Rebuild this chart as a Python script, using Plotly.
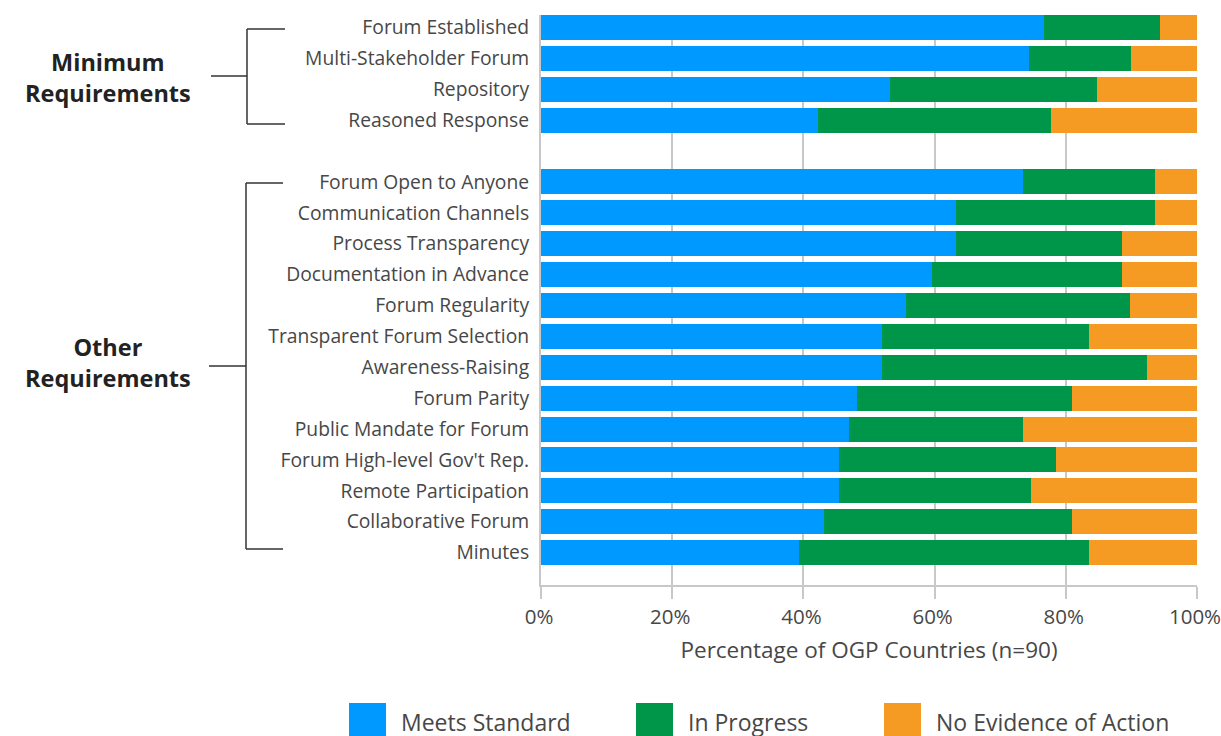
import plotly.graph_objects as go

# ---- data ----
categories = [
    "Forum Established", "Multi-Stakeholder Forum", "Repository", "Reasoned Response",
    "Forum Open to Anyone", "Communication Channels", "Process Transparency",
    "Documentation in Advance", "Forum Regularity", "Transparent Forum Selection",
    "Awareness-Raising", "Forum Parity", "Public Mandate for Forum",
    "Forum High-level Gov't Rep.", "Remote Participation", "Collaborative Forum", "Minutes",
]
meets_standard = [76.7, 74.4, 53.2, 42.2, 73.5, 63.2, 63.2, 59.6, 55.7, 52.0, 52.0,
                  48.1, 46.9, 45.5, 45.5, 43.1, 39.3]
in_progress = [17.7, 15.5, 31.5, 35.5, 20.1, 30.4, 25.4, 29.0, 34.1, 31.5, 40.4,
               32.8, 26.6, 33.0, 29.2, 37.8, 44.2]
no_evidence = [5.6, 10.1, 15.3, 22.3, 6.4, 6.4, 11.4, 11.4, 10.2, 16.5, 7.6,
               19.1, 26.5, 21.5, 25.3, 19.1, 16.5]
# row positions: one blank row between the two requirement groups
row_pos = [0, 1, 2, 3, 5, 6, 7, 8, 9, 10, 11, 12, 13, 14, 15, 16, 17]
series_names = ["Meets Standard", "In Progress", "No Evidence of Action"]
series_colors = ["#0099FF", "#00964A", "#F59A23"]
x_ticks = [0, 20, 40, 60, 80, 100]
x_tick_labels = ["0%", "20%", "40%", "60%", "80%", "100%"]
group_labels = ["Minimum<br>Requirements", "Other<br>Requirements"]

# page offset: body margin is removed by the post script below
OFF = 0
SW, SH = 1221, 736          # screen size
W, H = SW - OFF, SH - OFF   # figure size
# plot area in screen pixels
PL, PR, PT, PB = 541, 1197, 15, 585
L, T = PL - OFF, PT - OFF
R, B = SW - PR, SH - PB
FONT = "Open Sans"
TXT = "#474747"
GRID = "#c8c8c8"


def px(x):
    return (x - PL) / (PR - PL)


def py(y):
    return (PB - y) / (PB - PT)


fig = go.Figure()
for name, vals, col in zip(series_names, [meets_standard, in_progress, no_evidence], series_colors):
    fig.add_trace(go.Bar(
        y=row_pos, x=vals, name=name, orientation="h",
        marker=dict(color=col, line=dict(width=0)), width=0.81, showlegend=False,
    ))

shapes = []
line = dict(color="#333333", width=1.5)


def seg(x0, y0, x1, y1):
    shapes.append(dict(type="line", xref="paper", yref="paper",
                       x0=px(x0), y0=py(y0), x1=px(x1), y1=py(y1), line=line))


# Minimum requirements bracket
seg(247, 29, 247, 124)
seg(247, 29, 285, 29)
seg(247, 124, 285, 124)
seg(211, 76, 247, 76)
# Other requirements bracket
seg(246, 183, 246, 549)
seg(246, 183, 283, 183)
seg(246, 549, 283, 549)
seg(209, 366, 246, 366)

annotations = [
    dict(text=group_labels[0], x=px(108), y=py(77), xref="paper", yref="paper",
         showarrow=False, xanchor="center", yanchor="middle",
         font=dict(family=FONT, size=23.5, color="#222222", weight="bold")),
    dict(text=group_labels[1], x=px(108), y=py(362), xref="paper", yref="paper",
         showarrow=False, xanchor="center", yanchor="middle",
         font=dict(family=FONT, size=23.5, color="#222222", weight="bold")),
]

# custom legend at bottom
leg_sq_x = [349, 636, 884]
for name, col, sx in zip(series_names, series_colors, leg_sq_x):
    shapes.append(dict(type="rect", xref="paper", yref="paper",
                       x0=px(sx), x1=px(sx + 37), y0=py(703), y1=py(736),
                       fillcolor=col, line=dict(width=0)))
    annotations.append(dict(text=name, x=px(sx + 50), y=py(722), xref="paper", yref="paper",
                            showarrow=False, xanchor="left", yanchor="middle",
                            font=dict(family=FONT, size=23, color=TXT)))

fig.update_layout(
    barmode="stack",
    width=W, height=H,
    margin=dict(l=L, r=R, t=T, b=B, pad=0, autoexpand=False),
    plot_bgcolor="white", paper_bgcolor="white",
    font=dict(family=FONT, color=TXT),
    shapes=shapes, annotations=annotations,
    xaxis=dict(
        range=[0, 100], tickvals=x_ticks, ticktext=x_tick_labels,
        automargin=False,
        showgrid=True, gridcolor=GRID, gridwidth=2, zeroline=False,
        showline=True, linecolor=GRID, linewidth=2,
        ticks="outside", ticklen=12, tickcolor=GRID, tickwidth=2,
        ticklabeloverflow="allow", ticklabelshift=-2,
        tickfont=dict(family=FONT, size=20.5, color=TXT),
        title=dict(text="Percentage of OGP Countries (n=90)",
                   font=dict(family=FONT, size=22.5, color=TXT), standoff=14),
    ),
    yaxis=dict(
        range=[18.05, -0.405], tickvals=row_pos, ticktext=categories,
        automargin=False,
        showgrid=False, zeroline=False, showline=True, linecolor=GRID, linewidth=2,
        ticks="", ticklabelstandoff=6,
        tickfont=dict(family=FONT, size=19.3, color=TXT),
    ),
)

fig.write_html(
    "out.html",
    config={"displayModeBar": False},
    post_script="document.body.style.margin='0';document.body.style.overflow='hidden';",
)
